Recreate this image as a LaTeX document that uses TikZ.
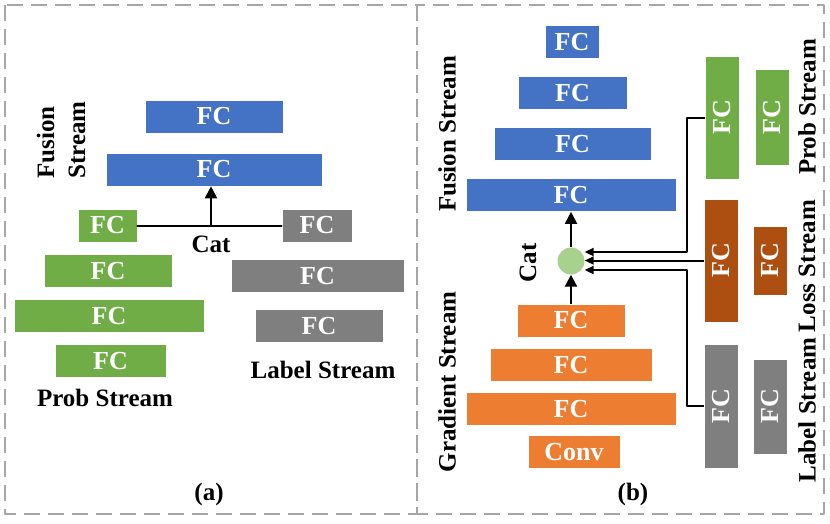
\documentclass[tikz,border=0pt]{standalone}
\usepackage{fontspec}
\setmainfont{Liberation Serif}
\usetikzlibrary{arrows.meta}
\definecolor{fblue}{RGB}{68,114,196}
\definecolor{fgreen}{RGB}{112,173,71}
\definecolor{forange}{RGB}{237,125,49}
\definecolor{fgray}{RGB}{127,127,127}
\definecolor{fbrown}{RGB}{174,79,18}
\definecolor{fcat}{RGB}{169,209,142}
\definecolor{frame}{RGB}{166,166,166}
\tikzset{
  fc/.style={fill=#1, draw=white, line width=0.6pt, text=white, inner sep=0pt,
    font=\fontsize{26}{30}\selectfont\bfseries, minimum height=33pt},
  vfc/.style={fc=#1, rotate=90},
  lab/.style={font=\fontsize{25}{31}\selectfont\bfseries, inner sep=0pt},
  link/.style={line width=2pt, line cap=round},
  tip/.style={-{Triangle[length=12pt,width=12pt]}, line width=2pt},
  sidetip/.style={-{Triangle[length=9pt,width=8pt]}, line width=2pt},
}
\begin{document}
\begin{tikzpicture}[x=1pt,y=-1pt,line join=round]
\useasboundingbox (0,0) rectangle (830,523);
% panel frames
\draw [frame, line width=2pt, dash pattern=on 16pt off 8pt] (5,5) rectangle (417,514);
\draw [frame, line width=2pt, dash pattern=on 16pt off 8pt] (417,5) rectangle (824,514);

% (a) fusion stream
\node[fc=fblue, minimum width=138pt] (fa1) at (214,116.5) {FC};
\node[fc=fblue, minimum width=216pt] (fa2) at (214,169.5) {FC};
% (a) prob stream
\node[fc=fgreen, minimum width=59pt] (pa1) at (107.5,225.5) {FC};
\node[fc=fgreen, minimum width=128pt] (pa2) at (108,271) {FC};
\node[fc=fgreen, minimum width=190pt] (pa3) at (109,316) {FC};
\node[fc=fgreen, minimum width=111pt] (pa4) at (110.5,361) {FC};
% (a) label stream
\node[fc=fgray, minimum width=70pt] (la1) at (317,225.5) {FC};
\node[fc=fgray, minimum width=173pt] (la2) at (317.5,276) {FC};
\node[fc=fgray, minimum width=128pt] (la3) at (319,326) {FC};
% (a) cat
\coordinate (cata) at (211,225.5);
\draw [link] (pa1.east) -- (la1.west);
\draw [tip] (cata) -- (cata |- fa2.south);
\node[lab] (catalab) at (211,244) {Cat};
\node[lab, rotate=90, align=left] (fusa) at (61,140) {Fusion\\Stream};
\node[lab] (proba) at (105,398) {Prob Stream};
\node[lab] (labela) at (323,370) {Label Stream};
\node[lab] (capa) at (209,494) {(a)};

% (b) fusion stream
\node[fc=fblue, minimum width=54pt] (fb1) at (572,42) {FC};
\node[fc=fblue, minimum width=109pt] (fb2) at (572.5,93) {FC};
\node[fc=fblue, minimum width=157pt] (fb3) at (572.5,144) {FC};
\node[fc=fblue, minimum width=210pt] (fb4) at (571,195) {FC};
% (b) gradient stream
\node[fc=forange, minimum width=108pt] (gb1) at (571,320.5) {FC};
\node[fc=forange, minimum width=162pt] (gb2) at (571,365) {FC};
\node[fc=forange, minimum width=210pt] (gb3) at (571,409) {FC};
\node[fc=forange, minimum width=92pt] (conv) at (574,452) {Conv};
% (b) side streams (rotated: north points left)
\node[vfc=fgreen, minimum width=123pt, minimum height=34pt] (pb1) at (722,117.5) {FC};
\node[vfc=fgreen, minimum width=96pt, minimum height=34pt] (pb2) at (772,117) {FC};
\node[vfc=fbrown, minimum width=123pt, minimum height=34pt] (lb1) at (721,260.5) {FC};
\node[vfc=fbrown, minimum width=69pt, minimum height=34pt] (lb2) at (770,260.5) {FC};
\node[vfc=fgray, minimum width=124pt, minimum height=34pt] (tb1) at (721,406) {FC};
\node[vfc=fgray, minimum width=95pt, minimum height=34pt] (tb2) at (770,406.5) {FC};
% (b) cat
\node[circle, fill=fcat, minimum size=27pt, inner sep=0pt] (catb) at (571,261) {};
\draw [tip] (gb1.north) -- (catb.south);
\draw [tip] (catb.north) -- (fb4.south);
\draw [sidetip] (pb1.north) -- ++(-18,0) |- ([yshift=9pt]catb.east);
\draw [sidetip] (lb1.north) -- (lb1.north -| catb.east);
\draw [sidetip] (tb1.north) -- ++(-17,0) |- ([yshift=-9pt]catb.east);
\node[lab, rotate=90] (catblab) at (528,263) {Cat};
\node[lab, rotate=90] (fusb) at (447,134) {Fusion Stream};
\node[lab, rotate=90] (gradb) at (447,382) {Gradient Stream};
\node[lab, rotate=90] (probb) at (807,107) {Prob Stream};
\node[lab, rotate=90] (lossb) at (807,266) {Loss Stream};
\node[lab, rotate=90] (labelb) at (807,410) {Label Stream};
\node[lab] (capb) at (633,494) {(b)};
\end{tikzpicture}
\end{document}
